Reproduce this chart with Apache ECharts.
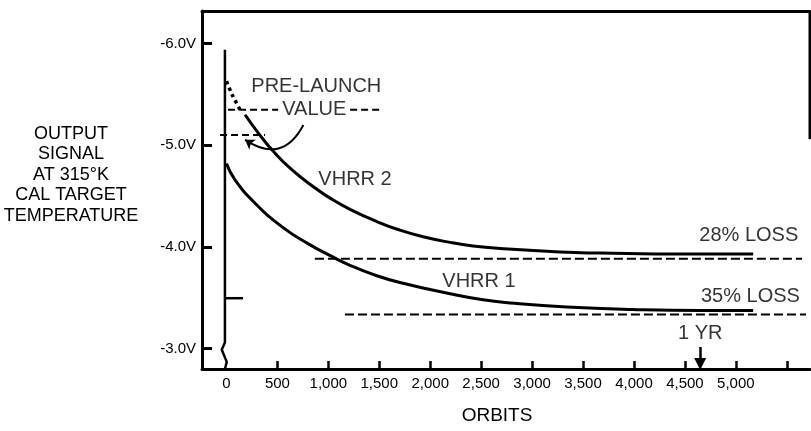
<!DOCTYPE html>
<html>
<head>
<meta charset="utf-8">
<script src="https://cdn.jsdelivr.net/npm/echarts/dist/echarts.min.js"></script>
<style>
  html, body { margin: 0; padding: 0; background: #fff; }
  #chart { width: 811px; height: 431px; }
</style>
</head>
<body>
<div id="chart"></div>
<script>
// VHRR output signal vs orbits
var orbitTicks = [500, 1000, 1500, 2000, 2500, 3000, 3500, 4000, 4500, 5000, 5500];
var orbitLabels = [0, 500, 1000, 1500, 2000, 2500, 3000, 3500, 4000, 4500, 5000];
var voltTicks = [-6, -5, -4, -3];

// [orbits, volts]
var vhrr2Lead = [[0, -5.63], [55, -5.50], [133, -5.35]];
var vhrr2 = [[183, -5.30], [313, -5.12], [460, -4.94], [641, -4.76], [870, -4.58], [1017, -4.48],
    [1213, -4.37], [1475, -4.25], [1703, -4.165], [1930, -4.10], [2195, -4.045], [2420, -4.01],
    [2685, -3.985], [3274, -3.95], [3666, -3.94], [4500, -3.93], [5170, -3.93]];
var vhrr1 = [[0, -4.82], [84, -4.66], [281, -4.43], [543, -4.20], [804, -4.03], [1066, -3.89],
    [1213, -3.82], [1439, -3.73], [1703, -3.65], [2195, -3.54], [2519, -3.48], [2784, -3.45],
    [3340, -3.41], [3991, -3.385], [4649, -3.375], [5170, -3.375]];

var loss28 = [[868, -3.885], [5650, -3.885]];
var loss35 = [[1163, -3.335], [5689, -3.335]];
var preLaunch2a = [[16, -5.348], [507, -5.348]];
var preLaunch2b = [[1214, -5.348], [1508, -5.348]];
var preLaunch1 = [[-63, -5.102], [379, -5.102]];

// broken inner axis at orbit 0, its -3.5V mark, right edge of frame
var innerAxis = [[-15, -5.94], [-15, -3.06], [-46, -2.99], [3, -2.87], [-15, -2.80]];
var innerMark = [[-15, -3.496], [163, -3.496]];
var rightEdge = [[5728, -6.32], [5728, -5.06]];

var pointer = [[755, -5.20], [183, -5.053]];
var oneYear = [[4650, -3.017], [4650, -2.85]];

var noteText = ['PRE-LAUNCH', 'VALUE', 'VHRR 2', 'VHRR 1', '28% LOSS', '35% LOSS', '1 YR'];
var noteAt = [[882, -5.575], [862, -5.355], [1262, -4.659], [2479, -3.659], [5127, -4.111], [5143, -3.512], [4650, -3.145]];

var ink = '#000';
var font = 'Liberation Sans';

var chart = echarts.init(document.getElementById('chart'));

function plain(data, width, type, smooth) {
    return {
        type: 'line',
        data: data,
        showSymbol: false,
        symbol: 'none',
        clip: false,
        smooth: smooth || false,
        lineStyle: { color: ink, width: width, type: type || 'solid' },
        silent: true
    };
}

var notes = noteText.map(function (t, i) {
    return { name: t, value: noteAt[i] };
});

option = {
    animation: false,
    backgroundColor: '#fff',
    grid: { left: 202, right: 1, top: 11, bottom: 62 },
    xAxis: [{
        type: 'value',
        min: -240,
        max: 5728,
        name: 'ORBITS',
        nameLocation: 'middle',
        nameGap: 37,
        nameTextStyle: { fontFamily: font, fontSize: 19, color: ink, padding: [0, 18, 0, 0] },
        axisLine: { onZero: false, lineStyle: { color: ink, width: 3 } },
        axisTick: { inside: true, length: 8, lineStyle: { color: ink, width: 2.5 }, customValues: orbitTicks },
        axisLabel: {
            margin: 7,
            fontFamily: font, fontSize: 15, color: ink,
            customValues: orbitLabels,
            formatter: function (v) { return v.toLocaleString('en-US'); }
        },
        splitLine: { show: false }
    }, {
        type: 'value',
        position: 'top',
        min: -240,
        max: 5728,
        axisLine: { onZero: false, lineStyle: { color: ink, width: 3 } },
        axisTick: { show: false },
        axisLabel: { show: false },
        splitLine: { show: false }
    }],
    yAxis: {
        type: 'value',
        inverse: true,
        min: -6.32,
        max: -2.80,
        name: 'OUTPUT\nSIGNAL\nAT 315°K\nCAL TARGET\nTEMPERATURE\n{gap| }',
        nameLocation: 'middle',
        nameRotate: 0,
        nameGap: 131,
        nameTextStyle: {
            fontFamily: font, fontSize: 18, color: ink, align: 'center',
            lineHeight: 20.5,
            rich: { gap: { fontSize: 10, lineHeight: 30, height: 30 } }
        },
        axisLine: { onZero: false, lineStyle: { color: ink, width: 3 } },
        axisTick: { inside: true, length: 10, lineStyle: { color: ink, width: 3 }, customValues: voltTicks },
        axisLabel: {
            margin: 6,
            fontFamily: font, fontSize: 15, color: ink,
            customValues: voltTicks,
            formatter: function (v) { return v.toFixed(1) + 'V'; }
        },
        splitLine: { show: false }
    },
    series: [
        plain(vhrr2Lead, 3.5, 'dotted', 0.3),
        plain(vhrr2, 3, 'solid', 0.5),
        plain(vhrr1, 3, 'solid', 0.5),
        plain(loss28, 2, [9, 4]),
        plain(loss35, 2, [9, 4]),
        plain(preLaunch2a, 2, [7, 4]),
        plain(preLaunch2b, 2, [7, 4]),
        plain(preLaunch1, 2, [7, 4]),
        plain(innerAxis, 2.5),
        plain(innerMark, 2.5),
        plain(rightEdge, 3),
        {
            type: 'lines',
            coordinateSystem: 'cartesian2d',
            symbol: ['none', 'arrow'],
            symbolSize: 9,
            lineStyle: { color: ink, width: 2, curveness: 0.55, opacity: 1 },
            data: [{ coords: pointer }],
            silent: true
        },
        {
            type: 'lines',
            coordinateSystem: 'cartesian2d',
            symbol: ['none', 'triangle'],
            symbolSize: [8, 12],
            lineStyle: { color: ink, width: 2.5, opacity: 1 },
            data: [{ coords: oneYear }],
            silent: true
        },
        {
            type: 'scatter',
            data: notes,
            symbolSize: 1,
            itemStyle: { color: 'rgba(0,0,0,0)' },
            label: {
                show: true,
                position: 'inside',
                formatter: '{b}',
                fontFamily: font,
                fontSize: 20,
                color: ink
            },
            silent: true
        }
    ]
};

chart.setOption(option);
</script>
</body>
</html>
